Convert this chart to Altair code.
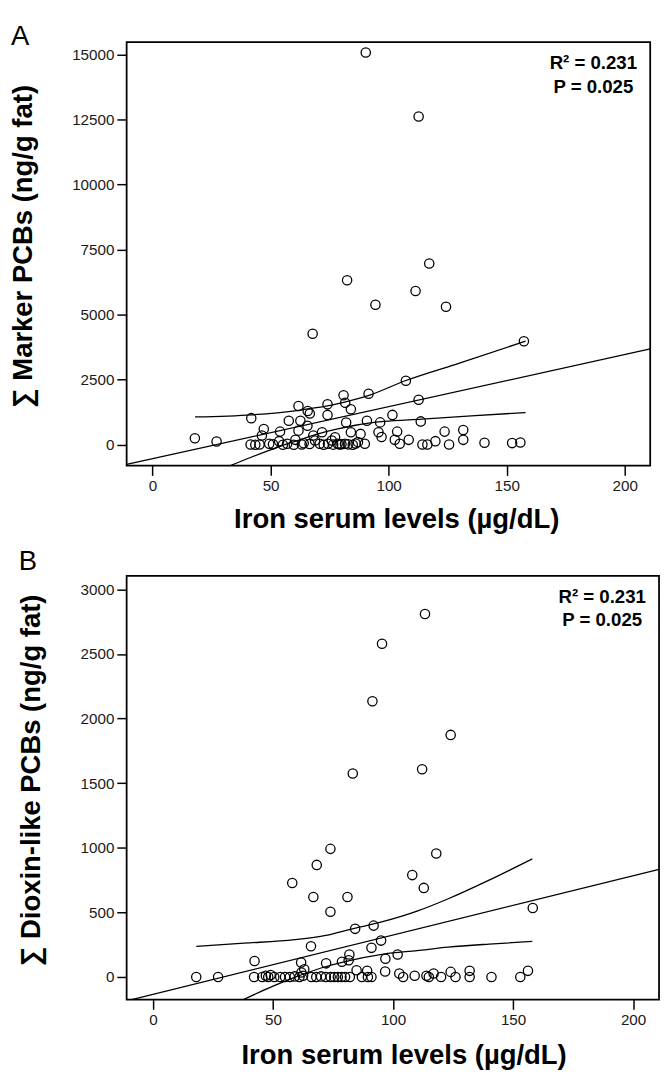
import altair as alt
import pandas as pd

FONT = "Liberation Sans"

# ---------------- shared ----------------
x_ticks = [0, 50, 100, 150, 200]
x_domain = [-11, 210.8]
x_title = "Iron serum levels (µg/dL)"
stats_text = ["R² = 0.231", "P = 0.025"]

# ---------------- Panel A: Σ Marker PCBs ----------------
a_iron = [17.9, 27.1, 41.8, 41.5, 43.5, 45.3, 46.3, 47.1, 49.4, 51.0,
          54.0, 53.6, 55.2, 57.0, 57.7, 59.8, 60.5, 61.8, 62.6, 61.8,
          63.2, 64.0, 65.7, 66.6, 65.6, 66.5, 68.1, 68.8, 70.8, 71.8,
          72.5, 74.1, 74.1, 74.3, 75.9, 76.5, 77.3, 78.4, 79.2, 80.0,
          81.5, 82.9, 80.9, 81.6, 84.0, 82.0, 84.0, 84.8, 86.0, 87.0,
          88.1, 89.9, 90.8, 91.5, 95.7, 96.4, 97.0,
          101.6, 102.6, 103.6, 104.7, 107.3, 108.5, 112.7, 113.6, 114.3, 116.4,
          119.8, 123.7, 125.6, 131.6, 131.6, 140.6, 152.3, 155.8, 157.3,
          67.8, 82.4, 117.2, 111.4, 94.4, 124.3, 90.3, 112.7]
a_pcb = [253, 125, 1023, 11, 0, 11, 353, 606, 38, 20,
         505, 139, 0, 38, 922, 0, 189, 1489, 922, 543,
         10, 60, 1300, 1200, 732, 30, 353, 164, 38, 480,
         0, 1553, 1148, 38, 164, 5, 290, 38, 10, 20,
         40, 15, 1906, 1616, 1364, 858, 480, 0, 45, 101,
         417, 38, 922, 1958, 480, 860, 300,
         1148, 189, 505, 38, 2462, 189, 1731, 898, 11, 11,
         139, 505, 11, 568, 189, 76, 64, 87, 3977,
         4269, 6326, 6970, 5909, 5379, 5303, 15076, 12614]
a_fit_x = [-11, 210.8]
a_fit_y = [-754, 3682]
a_up_x = [18, 42, 62, 74, 83, 92, 107, 130, 158]
a_up_y = [1070, 1150, 1326, 1490, 1680, 1910, 2460, 3140, 3980]
a_lo_x = [33, 42, 54, 62, 70, 78, 86, 98, 114, 135, 158]
a_lo_y = [-800, -470, -60, 180, 417, 600, 750, 898, 985, 1110, 1239]
a_y_domain = [-800, 15480]
a_y_ticks = [0, 2500, 5000, 7500, 10000, 12500, 15000]
a_y_title = "∑ Marker PCBs (ng/g fat)"

# ---------------- Panel B: Σ Dioxin-like PCBs ----------------
b_iron = [18, 27.1, 42.1, 42.3, 45.5, 47, 48, 49, 50.5, 53,
          55, 57, 59, 61, 62.5, 61.7, 61.8, 63, 65.8, 58,
          66.8, 68.2, 73.9, 73.9, 81, 83.2, 84.2, 91.9, 95, 91,
          96.8, 96.7, 72.1, 78.7, 81.8, 81.5, 84.8, 89.2, 66, 68,
          70, 72, 74, 75.5, 77, 78.5, 80, 82, 87, 89.5,
          91, 101.9, 102.6, 104.2, 109, 113.9, 114.9, 116.9, 120, 124,
          126, 131.9, 131.9, 141, 153, 156.2, 124, 112.1, 118, 108,
          112.8, 158.2, 95.4, 91.4, 113.3]
b_pcb = [0, 0, 0, 124, 0, 10, 0, 15, 0, 0,
         0, 0, 5, 0, 10, 112, 35, 60, 238, 728,
         619, 868, 992, 505, 619, 1575, 373, 398, 282, 226,
         142, 43, 106, 119, 175, 130, 53, 48, 0, 0,
         5, 0, 0, 0, 0, 0, 0, 0, 0, 0,
         0, 175, 28, 0, 10, 10, 0, 28, 0, 40,
         0, 48, 0, 0, 0, 48, 1874, 1608, 956, 789,
         690, 535, 2580, 2134, 2810]
b_fit_x = [-11, 210.8]
b_fit_y = [-184.5, 833.5]
b_up_x = [18, 38, 59, 72, 83, 96, 110, 123, 140, 158]
b_up_y = [238, 262, 289, 322, 373, 430, 510, 606, 750, 915]
b_lo_x = [37, 50, 59, 70, 80, 96, 110, 123, 140, 158]
b_lo_y = [-180, -70, -3, 70, 120, 178, 205, 231, 255, 276]
b_y_domain = [-174, 3104]
b_y_ticks = [0, 500, 1000, 1500, 2000, 2500, 3000]
b_y_title = "∑ Dioxin-like PCBs (ng/g fat)"


def panel(label, iron, pcb, fit_x, fit_y, up_x, up_y, lo_x, lo_y,
          y_domain, y_ticks, y_title, width, height, x_title_pad, y_title_pad,
          x_title_shift, label_x, label_y):
    xs = alt.Scale(domain=x_domain, nice=False, zero=False)
    ys = alt.Scale(domain=y_domain, nice=False, zero=False)
    xax = alt.Axis(values=x_ticks, title=x_title, titlePadding=x_title_pad, format="d",
                   titleX=width / 2 + x_title_shift)
    yax = alt.Axis(values=y_ticks, title=y_title, titlePadding=y_title_pad, format="d",
                   titleY=height / 2 - 8)

    pts = alt.Chart(pd.DataFrame({"x": iron, "y": pcb})).mark_point(
        shape="circle", filled=False, size=90, color="black", strokeWidth=1.3, opacity=1
    ).encode(x=alt.X("x:Q", scale=xs, axis=xax), y=alt.Y("y:Q", scale=ys, axis=yax))

    def line(xv, yv, interp="linear"):
        return alt.Chart(pd.DataFrame({"x": xv, "y": yv})).mark_line(
            color="black", strokeWidth=1.3, clip=True, interpolate=interp
        ).encode(x=alt.X("x:Q", scale=xs, axis=xax), y=alt.Y("y:Q", scale=ys, axis=yax))

    one = pd.DataFrame({"k": [0]})

    def txt(s, x, y, size, weight, align, baseline):
        return alt.Chart(one).mark_text(
            text=s, font=FONT, fontSize=size, fontWeight=weight, color="black",
            align=align, baseline=baseline
        ).encode(x=alt.value(x), y=alt.value(y))

    t1 = txt(stats_text[0], width - 58, 22, 19, "bold", "center", "middle")
    t2 = txt(stats_text[1], width - 58, 45.5, 19, "bold", "center", "middle")
    lab = txt(label, label_x, label_y, 28, "normal", "left", "alphabetic")

    return alt.layer(
        line(fit_x, fit_y), line(up_x, up_y, "monotone"), line(lo_x, lo_y, "monotone"),
        pts, t1, t2, lab
    ).properties(width=width, height=height)


top = panel("A", a_iron, a_pcb, a_fit_x, a_fit_y, a_up_x, a_up_y, a_lo_x, a_lo_y,
            a_y_domain, a_y_ticks, a_y_title, 534, 432, 12.4, 35.4, 8, -118, 2.6)
bottom = panel("B", b_iron, b_pcb, b_fit_x, b_fit_y, b_up_x, b_up_y, b_lo_x, b_lo_y,
               b_y_domain, b_y_ticks, b_y_title, 543, 432, 15, 35.3, 11, -110, -6.3)

chart = alt.concat(top, bottom, columns=1, spacing=12.6, align="none").properties(
    padding={"left": 0, "top": 3, "right": 0, "bottom": 0}, background="white"
).configure_view(
    stroke="black", strokeWidth=1.8
).configure_axis(
    domain=False, grid=False, ticks=True, tickColor="black", tickWidth=1.5, tickSize=10,
    labelFont=FONT, labelFontSize=15.5, labelColor="#1a1a1a", labelPadding=3,
    titleFont=FONT, titleFontSize=28, titleFontWeight="bold", titleColor="black"
)

chart.save("out.html", embed_options={"renderer": "svg", "actions": False})
